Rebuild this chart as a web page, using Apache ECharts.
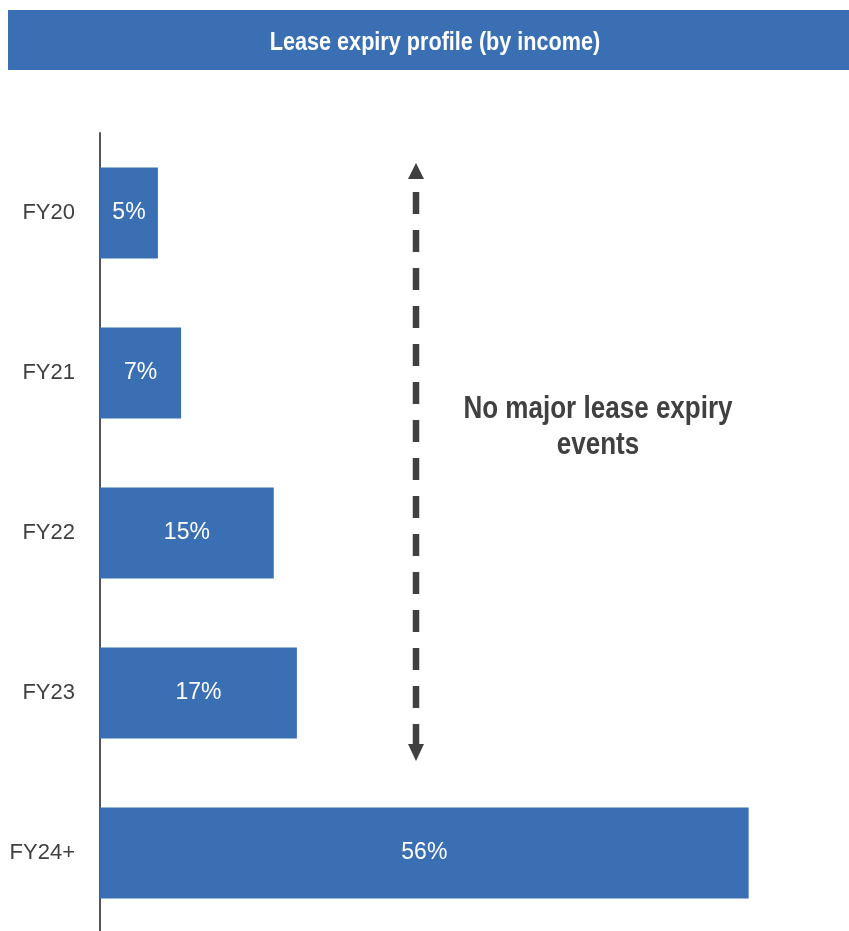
<!DOCTYPE html>
<html><head><meta charset="utf-8">
<script src="https://cdn.jsdelivr.net/npm/echarts@6/dist/echarts.min.js"></script>
<style>html,body{margin:0;padding:0;background:#fff}#c{width:849px;height:931px}</style>
</head><body><div id="c"></div>
<script>
const categories = ['FY20', 'FY21', 'FY22', 'FY23', 'FY24+'];
const values = [5, 7, 15, 17, 56];
const titleText = 'Lease expiry profile (by income)';
const noteText = 'No major lease expiry\nevents';

const FONT = '"Liberation Sans Narrow", "Arial Narrow", "Liberation Sans", Arial, sans-serif';
const BLUE = '#3A6FB4';
const chart = echarts.init(document.getElementById('c'), null, {renderer: 'canvas'});
chart.setOption({
  animation: false,
  grid: {left: 100, top: 133, height: 800, right: 54, containLabel: false, outerBoundsMode: 'none'},
  xAxis: {type: 'value', min: 0, max: 60, show: false},
  yAxis: {
    type: 'category', data: categories, inverse: true,
    axisLine: {lineStyle: {color: '#555555', width: 2}},
    axisTick: {show: false},
    axisLabel: {color: '#404040', fontSize: 22, fontFamily: FONT, margin: 25}
  },
  series: [{
    type: 'bar', data: values, barWidth: 91,
    itemStyle: {color: BLUE},
    label: {show: true, position: 'inside', color: '#fff', fontSize: 23, fontFamily: FONT,
      formatter: p => p.value + '%'}
  }],
  graphic: [
    {type: 'rect', left: 8, top: 10, shape: {width: 841, height: 60}, style: {fill: BLUE}},
    {type: 'text', x: 435, y: 43, scaleX: 0.865, style: {text: titleText, fill: '#fff', font: 'bold 25px ' + FONT, textAlign: 'center', textVerticalAlign: 'middle'}},
    {type: 'line', shape: {x1: 416, y1: 192, x2: 416, y2: 746}, style: {stroke: '#404040', lineWidth: 6.5, lineDash: [22, 16]}},
    {type: 'polygon', shape: {points: [[416, 163], [408, 179], [424, 179]]}, style: {fill: '#404040'}},
    {type: 'polygon', shape: {points: [[416, 761], [408, 744], [424, 744]]}, style: {fill: '#404040'}},
    {type: 'text', x: 598, y: 427, scaleX: 0.84, style: {text: noteText, fill: '#404040', font: 'bold 31px ' + FONT, textAlign: 'center', textVerticalAlign: 'middle', lineHeight: 36}}
  ]
});
</script></body></html>
